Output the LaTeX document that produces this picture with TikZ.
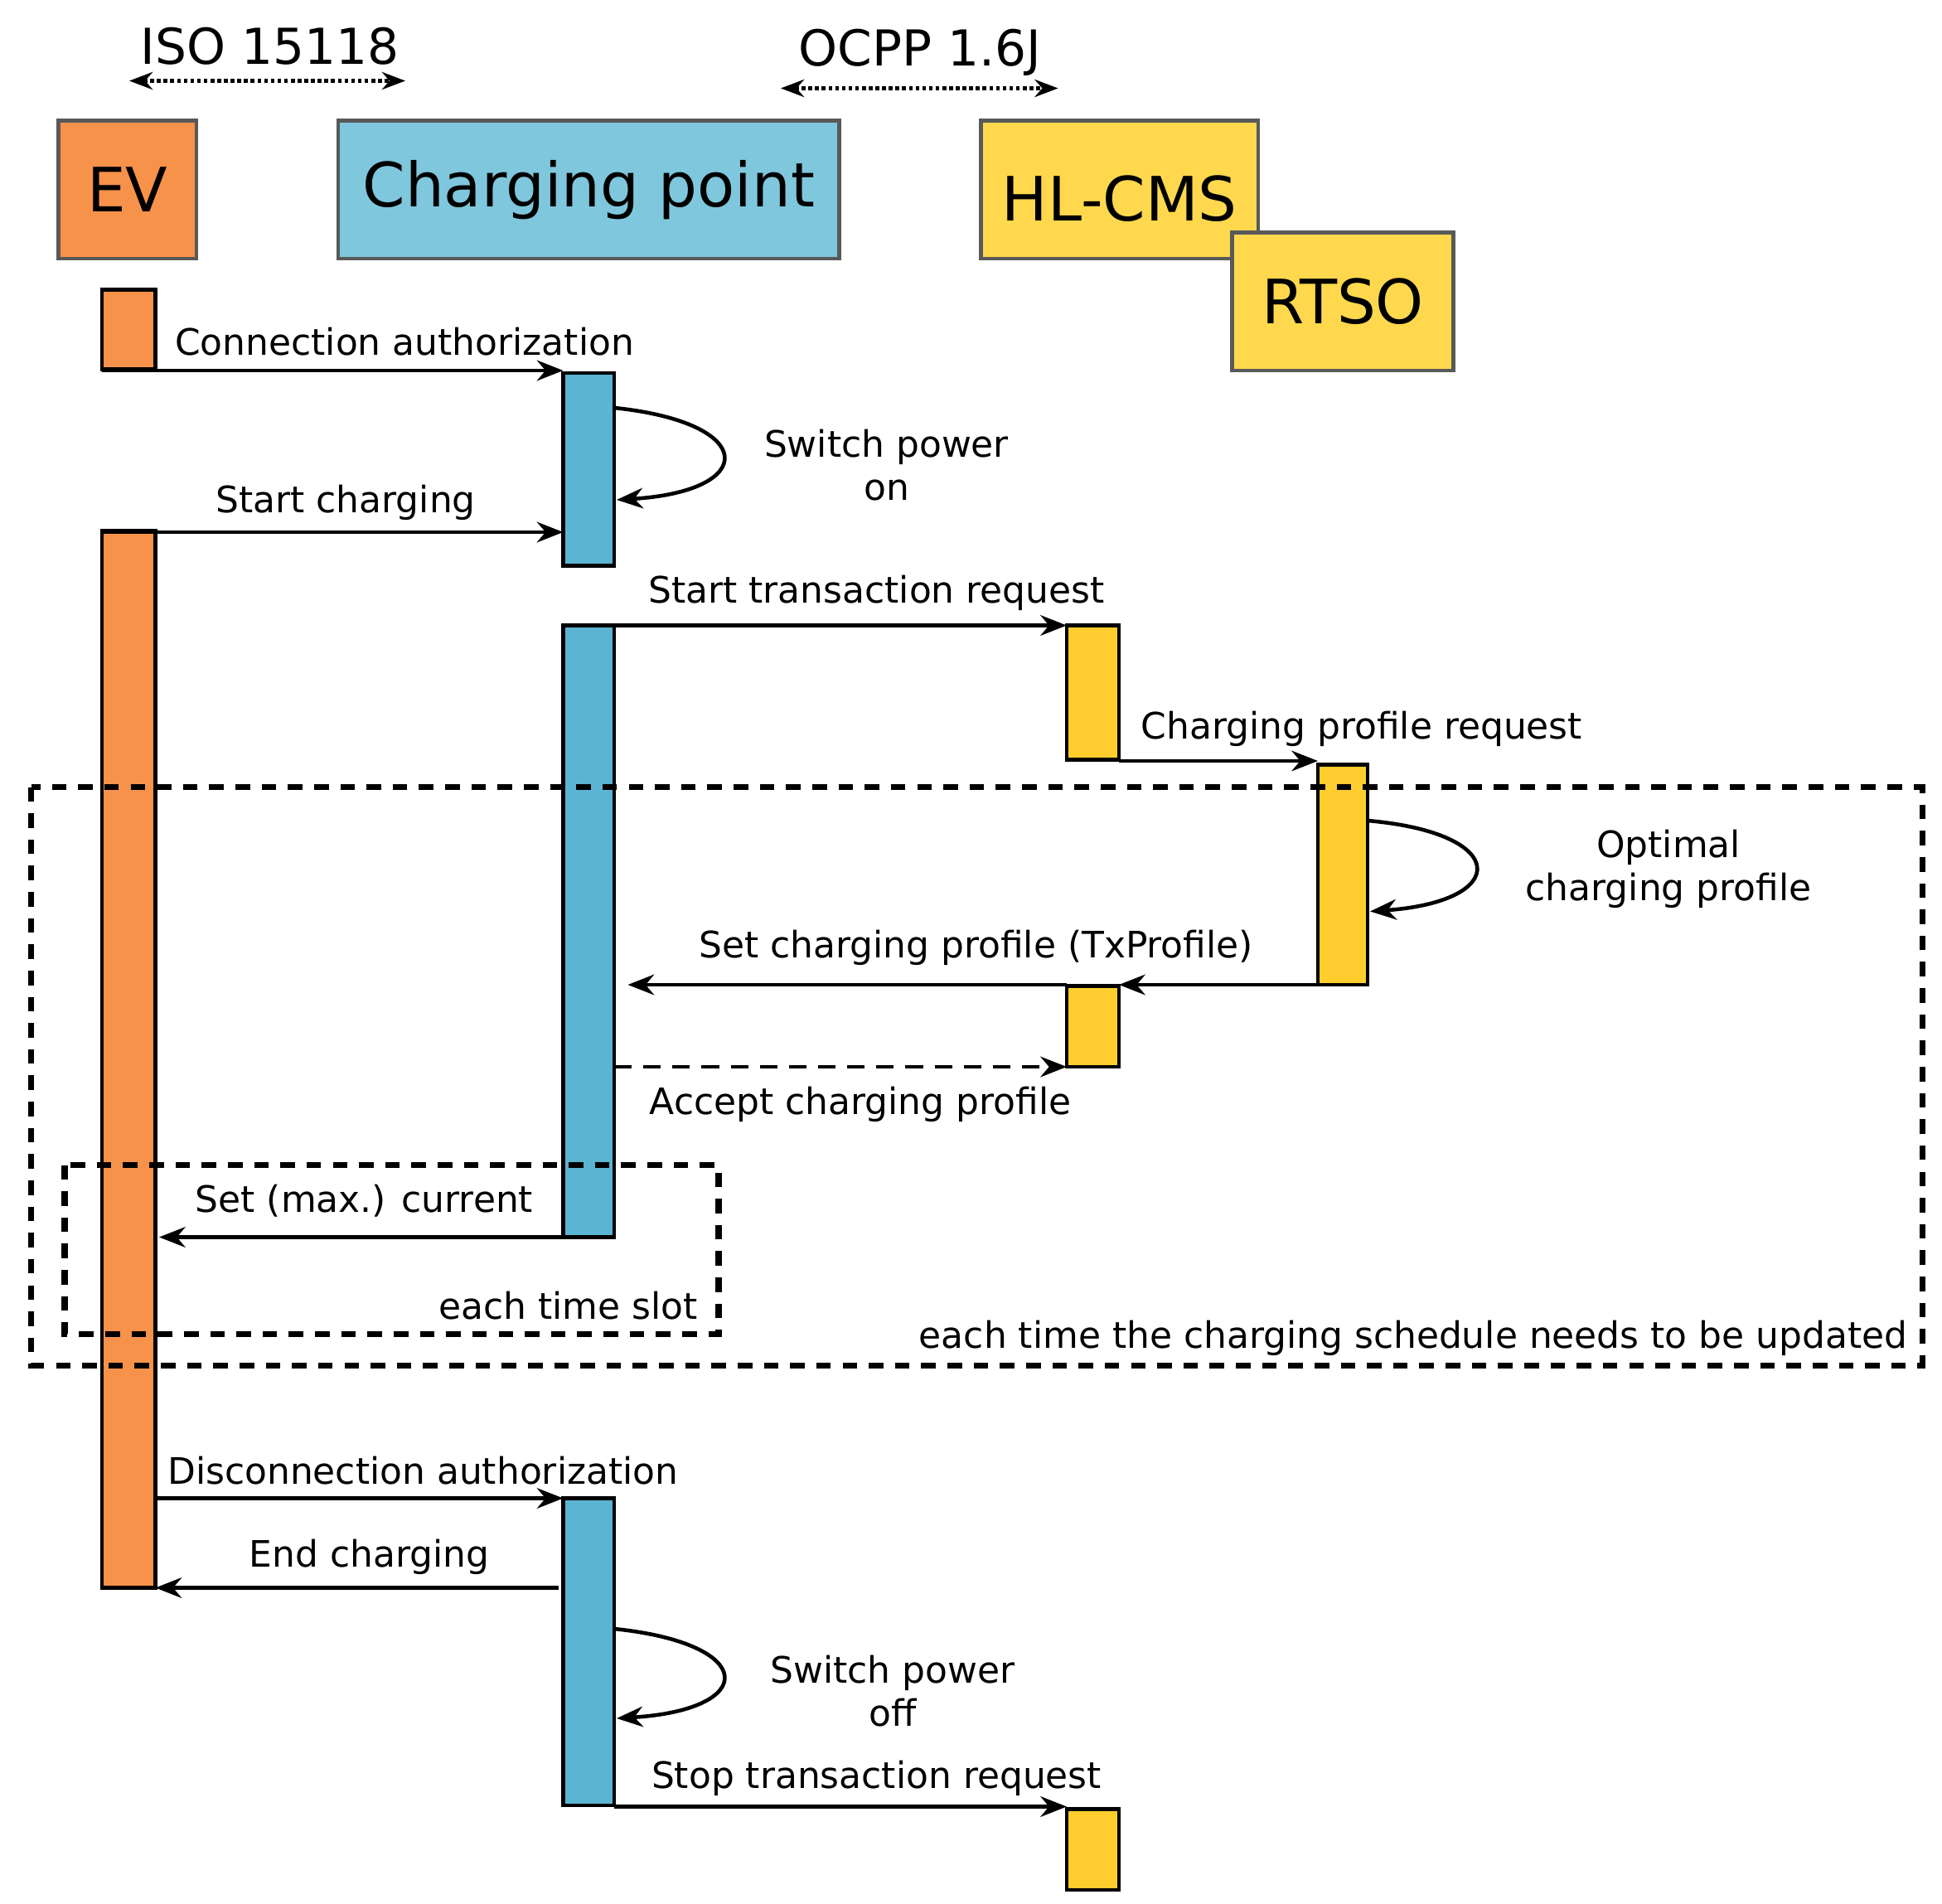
\documentclass[tikz,border=0pt]{standalone}
\usepackage{fontspec}
\setmainfont{DejaVu Sans}
\usetikzlibrary{arrows.meta}
\definecolor{evo}{HTML}{F7924A}
\definecolor{cpb}{HTML}{5BB4D1}
\definecolor{cpl}{HTML}{7FC7DC}
\definecolor{hly}{HTML}{FFCE2E}
\definecolor{hlb}{HTML}{FFD84D}
\begin{document}
\begin{tikzpicture}[x=0.015cm,y=-0.015cm,
  hdr/.style={draw=black!65,line width=1.2pt,font=\fontsize{21}{25}\selectfont,inner sep=0},
  bar/.style={draw=black,line width=1.2pt},
  msg/.style={line width=1.3pt,-{Stealth[length=9pt,width=7pt]}},
  lbl/.style={font=\fontsize{12.5}{15}\selectfont,inner sep=1pt},
  box/.style={line width=2pt,dash pattern=on 5pt off 4pt}]
\useasboundingbox (0,0) rectangle (1562,1531);
% headers
\node[hdr,fill=evo,minimum width=111*0.15mm,minimum height=111*0.15mm] (ev) at (102.5,152.5) {EV};
\node[hdr,fill=cpl,minimum width=403*0.15mm,minimum height=111*0.15mm] (cp) at (473.5,152.5) {Charging point};
\node[hdr,fill=hlb,minimum width=223*0.15mm,minimum height=111*0.15mm,text depth=0pt] (hl) at (900.5,152.5) {\raisebox{-6pt}{HL-CMS}};
\node[hdr,fill=hlb,minimum width=178*0.15mm,minimum height=111*0.15mm] (rt) at (1080,242.5) {RTSO};
% protocol labels
\node[lbl,font=\fontsize{17}{20}\selectfont] (iso) at (217,37) {ISO 15118};
\coordinate (isoL) at (104,65); \coordinate (isoR) at (326,65);
\draw[line width=1.3pt,densely dotted,{Stealth[length=8pt]}-{Stealth[length=8pt]}] (isoL) -- (isoR);
\node[lbl,font=\fontsize{17}{20}\selectfont] (ocpp) at (740,42) {OCPP 1.6J};
\coordinate (ocL) at (628,71); \coordinate (ocR) at (851,71);
\draw[line width=1.3pt,densely dotted,{Stealth[length=8pt]}-{Stealth[length=8pt]}] (ocL) -- (ocR);
% activation bars
\draw[bar,fill=evo] (82,233) rectangle (125,297);
\draw[bar,fill=evo] (82,427) rectangle (125,1277);
\draw[bar,fill=cpb] (453,300) rectangle (494,455);
\draw[bar,fill=cpb] (453,503) rectangle (494,995);
\draw[bar,fill=cpb] (453,1205) rectangle (494,1452);
\draw[bar,fill=hly] (858,503) rectangle (900,611);
\draw[bar,fill=hly] (858,793) rectangle (900,858);
\draw[bar,fill=hly] (858,1455) rectangle (900,1520);
\draw[bar,fill=hly] (1060,615) rectangle (1100,792);
% coordinates for messages
\coordinate (a1) at (82,298); \coordinate (b1) at (453,298);
\coordinate (a2) at (82,428); \coordinate (b2) at (453,428);
\coordinate (a3) at (494,503); \coordinate (b3) at (858,503);
\coordinate (a4) at (900,612); \coordinate (b4) at (1060,612);
\coordinate (a5) at (1060,792); \coordinate (b5) at (900,792);
\coordinate (a5b) at (858,792); \coordinate (b5b) at (505,792);
\coordinate (a6) at (494,858); \coordinate (b6) at (858,858);
\coordinate (a7) at (494,995); \coordinate (b7) at (128,995);
\coordinate (a8) at (125,1205); \coordinate (b8) at (453,1205);
\coordinate (a9) at (449,1277); \coordinate (b9) at (125,1277);
\coordinate (a10) at (494,1453); \coordinate (b10) at (858,1453);
\draw[msg] (a1) -- (b1);
\draw[msg] (a2) -- (b2);
\draw[msg] (a3) -- (b3);
\draw[msg] (a4) -- (b4);
\draw[msg] (a5) -- (b5);
\draw[msg] (a5b) -- (b5b);
\draw[msg,dash pattern=on 6pt off 4pt] (a6) -- (b6);
\draw[msg] (a7) -- (b7);
\draw[msg] (a8) -- (b8);
\draw[msg] (a9) -- (b9);
\draw[msg] (a10) -- (b10);
% self loops
\coordinate (s1) at (494,328); \coordinate (e1) at (496,402);
\draw[msg] (s1) .. controls (610,340) and (610,395) .. (e1);
\coordinate (s2) at (1100,660); \coordinate (e2) at (1102,733);
\draw[msg] (s2) .. controls (1215,670) and (1215,725) .. (e2);
\coordinate (s3) at (494,1310); \coordinate (e3) at (496,1382);
\draw[msg] (s3) .. controls (610,1322) and (610,1375) .. (e3);
% labels
\node[lbl,anchor=west] (l1) at (138,275) {Connection authorization};
\node[lbl] (l2) at (278,404) {Start charging};
\node[lbl] (l3) at (705,477) {Start transaction request};
\node[lbl,anchor=west] (l4) at (915,586) {Charging profile request};
\node[lbl] (l5) at (785,762) {Set charging profile (TxProfile)};
\node[lbl] (l6) at (692,888) {Accept charging profile};
\node[lbl] (l7) at (293,966) {Set (max.) current};
\node[lbl,anchor=west] (l8) at (132,1183) {Disconnection authorization};
\node[lbl] (l9) at (297,1252) {End charging};
\node[lbl] (l10) at (705,1430) {Stop transaction request};
\node[lbl,align=center] (sp1) at (713,374) {Switch power\\on};
\node[lbl,align=center] (op) at (1342,699) {Optimal\\charging profile};
\node[lbl,align=center] (sp2) at (718,1360) {Switch power\\off};
% loop boxes
\draw[box] (25,633) rectangle (1546,1098);
\draw[box] (52,937) rectangle (578,1073);
\node[lbl,anchor=east] (ts) at (564,1050) {each time slot};
\node[lbl,anchor=east] (up) at (1537,1076) {each time the charging schedule needs to be updated};
\end{tikzpicture}
\end{document}
